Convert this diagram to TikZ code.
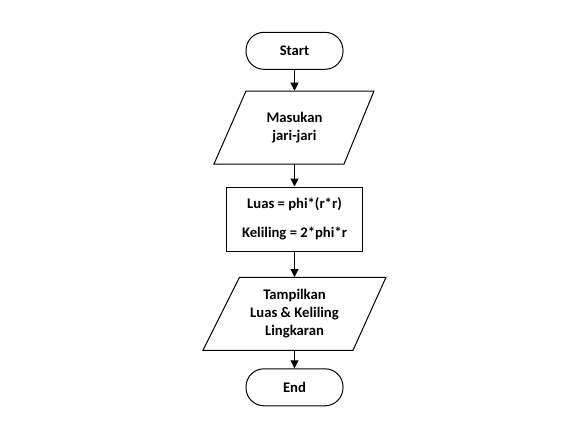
\documentclass[tikz,border=0pt]{standalone}
\usepackage{fontspec}
\setmainfont{Carlito}
\usetikzlibrary{arrows.meta}
\begin{document}
\begin{tikzpicture}[x=0.75pt,y=-0.75pt,
  every node/.style={font=\bfseries\fontsize{11pt}{13.5pt}\selectfont, align=center, inner sep=0pt},
  term/.style={draw, line width=0.75pt, rounded corners=13.5pt, minimum width=72.75pt, minimum height=27.75pt},
  iobox/.style={minimum width=1pt, minimum height=54.75pt},
  procbox/.style={draw, line width=0.75pt, minimum width=101.7pt, minimum height=48pt},
  flow/.style={line width=0.75pt, -{Triangle[width=6pt,length=6pt]}},
  outline/.style={draw, line width=0.75pt, line join=miter}]
\useasboundingbox (0,0) rectangle (587,440);
\node[term] (start) at (294.5,50.8) {Start};
\node[iobox] (in1) at (294.5,127.5) {Masukan\\jari-jari};
\path[outline] (246,91) -- (374,91) -- (344,164) -- (214,164) -- cycle;
\node[procbox] (proc) at (294.5,219) {Luas = phi*(r*r)\\[8pt]Keliling = 2*phi*r};
\node[iobox] (out1) at (294.5,313.8) {Tampilkan\\Luas \& Keliling\\Lingkaran};
\path[outline] (239.5,277.3) -- (386,277.3) -- (353,350.3) -- (203,350.3) -- cycle;
\node[term] (end) at (294.5,387.3) {End};
\draw[flow] (start) -- (in1.north);
\draw[flow] (in1.south) -- (proc);
\draw[flow] (proc) -- (out1.north);
\draw[flow] (out1.south) -- (end);
\end{tikzpicture}
\end{document}
